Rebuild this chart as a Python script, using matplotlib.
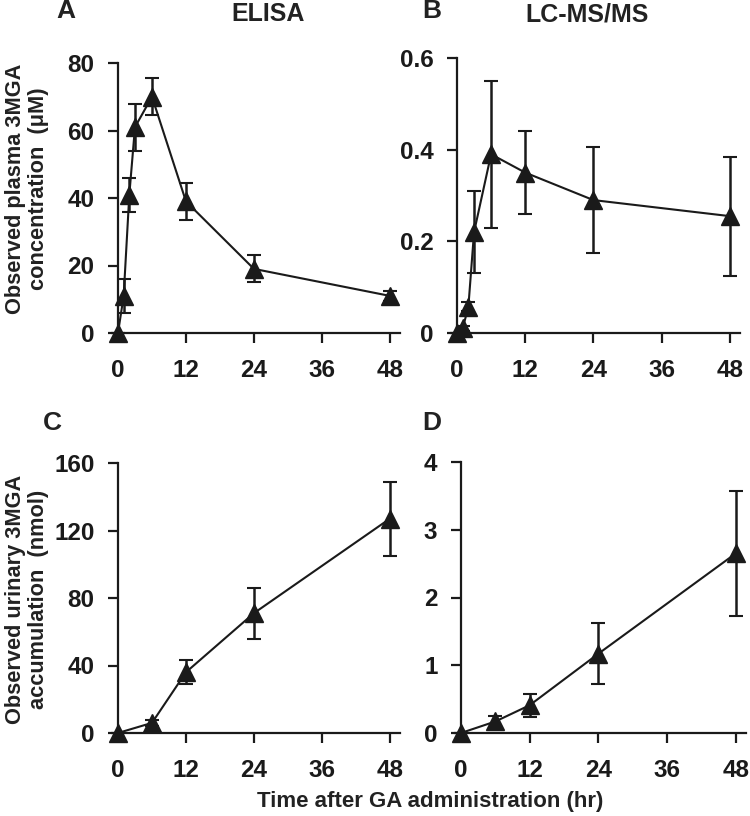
import numpy as np
import matplotlib.pyplot as plt

plt.rcParams['font.family'] = ['Liberation Sans', 'DejaVu Sans']
plt.rcParams['font.weight'] = 'bold'

# Plasma, ELISA (uM)
t_plasma = [0, 1, 2, 3, 6, 12, 24, 48]
elisa_plasma = [0, 11, 41, 61, 70, 39, 19, 11]
elisa_plasma_err = [0, 5, 5, 7, 5.5, 5.5, 4, 1.5]

# Plasma, LC-MS/MS (uM)
lcms_plasma = [0, 0.01, 0.057, 0.22, 0.39, 0.35, 0.29, 0.255]
lcms_plasma_err = [0, 0.005, 0.01, 0.09, 0.16, 0.09, 0.115, 0.13]

# Urine (nmol)
t_urine = [0, 6, 12, 24, 48]
elisa_urine = [0, 6, 36, 71, 127]
elisa_urine_err = [0, 2, 7, 15, 22]
lcms_urine = [0, 0.17, 0.41, 1.17, 2.65]
lcms_urine_err = [0, 0.08, 0.17, 0.45, 0.92]

xticks = [0, 12, 24, 36, 48]

col = '#1a1a1a'
W, H = 750, 816
fig = plt.figure(figsize=(W / 100, H / 100), dpi=100)


def box(l, r, t, b):
    return [l / W, 1 - b / H, (r - l) / W, (b - t) / H]


def panel(rect, x, y, err, ylim, yticks, fmt):
    ax = fig.add_axes(rect)
    ax.errorbar(x, y, yerr=err, color=col, lw=1.5, marker='^', ms=13.5,
                mfc=col, mec=col, capsize=5, capthick=1.5, elinewidth=1.8,
                clip_on=False, zorder=3)
    ax.set_xlim(0, 49.8)
    ax.set_ylim(*ylim)
    ax.set_xticks(xticks)
    ax.set_yticks(yticks)
    ax.set_yticklabels([fmt(v) for v in yticks])
    for s in ['top', 'right']:
        ax.spines[s].set_visible(False)
    for s in ['left', 'bottom']:
        ax.spines[s].set_linewidth(1.6)
        ax.spines[s].set_color(col)
    ax.tick_params(axis='both', direction='out', length=7, width=1.6,
                   colors=col, labelsize=17.5)
    ax.tick_params(axis='x', pad=12)
    ax.tick_params(axis='y', pad=10)
    for lab in ax.get_xticklabels() + ax.get_yticklabels():
        lab.set_fontweight('bold')
    return ax


panel(box(118, 400, 63, 333), t_plasma, elisa_plasma, elisa_plasma_err,
      (0, 80), [0, 20, 40, 60, 80], lambda v: f'{v:g}')
panel(box(457, 740, 58, 333), t_plasma, lcms_plasma, lcms_plasma_err,
      (0, 0.6), [0, 0.2, 0.4, 0.6], lambda v: '0' if v == 0 else f'{v:.1f}')
panel(box(118, 400, 463, 733), t_urine, elisa_urine, elisa_urine_err,
      (0, 160), [0, 40, 80, 120, 160], lambda v: f'{v:g}')
panel(box(461, 746, 462, 733), t_urine, lcms_urine, lcms_urine_err,
      (0, 4), [0, 1, 2, 3, 4], lambda v: f'{v:g}')

tk = dict(color='#222222', fontweight='bold', ha='center', va='center')
fig.text(66 / W, 1 - 11 / H, 'A', fontsize=19, **tk)
fig.text(268 / W, 1 - 14 / H, 'ELISA', fontsize=18, **tk)
fig.text(432 / W, 1 - 11 / H, 'B', fontsize=19, **tk)
fig.text(587 / W, 1 - 14 / H, 'LC-MS/MS', fontsize=18, **tk)
fig.text(52 / W, 1 - 423 / H, 'C', fontsize=19, **tk)
fig.text(432 / W, 1 - 423 / H, 'D', fontsize=19, **tk)

fig.text(27 / W, 1 - 189 / H, 'Observed plasma 3MGA\nconcentration  (\u03bcM)',
         fontsize=15.7, rotation=90, linespacing=1.17, multialignment='center', **tk)
fig.text(27 / W, 1 - 599 / H, 'Observed urinary 3MGA\naccumulation  (nmol)',
         fontsize=15.7, rotation=90, linespacing=1.17, multialignment='center', **tk)
fig.text(430 / W, 1 - 801 / H, 'Time after GA administration (hr)', fontsize=16, **tk)

plt.savefig('out.png', dpi=100)
